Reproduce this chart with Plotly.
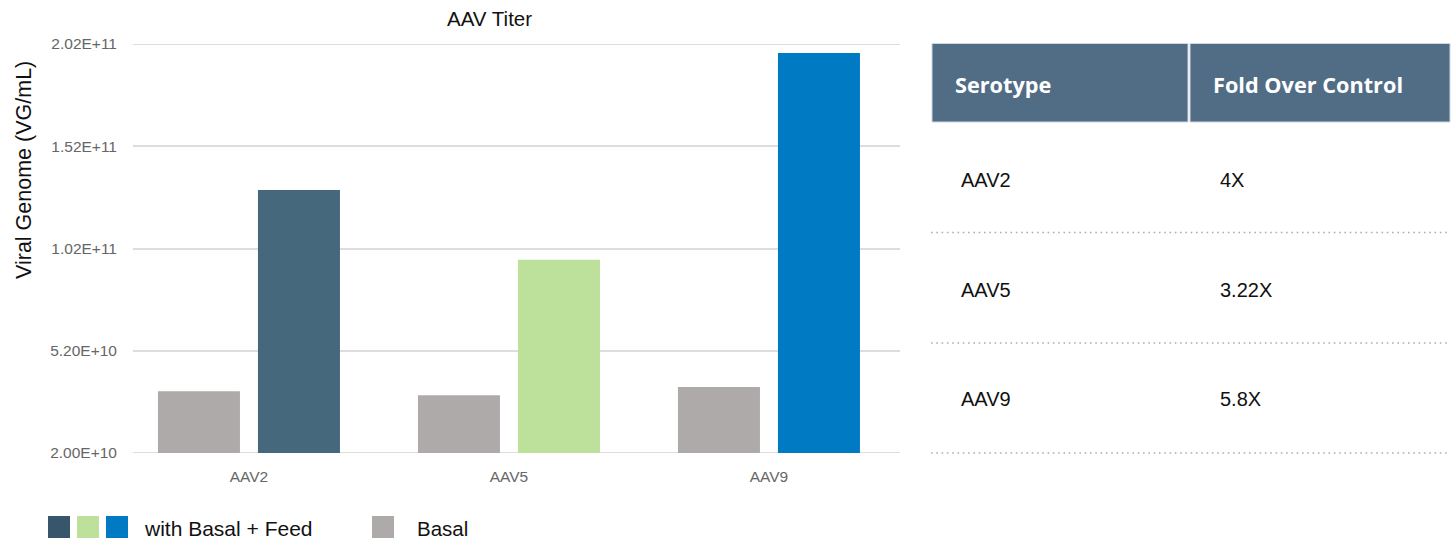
import numpy as np
import plotly.graph_objects as go

# ---------------- data ----------------
categories = ["AAV2", "AAV5", "AAV9"]
basal = [4.75e10, 4.57e10, 4.94e10]
feed = [1.37e11, 1.06e11, 1.98e11]
feed_colors = ["#45687c", "#bde09b", "#007ac3"]
legend_feed_colors = ["#37566b", "#bde09b", "#007ac3"]
basal_color = "#aeaaa9"
ytick_labels = ["2.00E+10", "5.20E+10", "1.02E+11", "1.52E+11", "2.02E+11"]
y_min, y_max = 2.0e10, 2.02e11
table_header = ["Serotype", "Fold Over Control"]
serotypes = ["AAV2", "AAV5", "AAV9"]
fold_over_control = ["4X", "3.22X", "5.8X"]

# ---------------- geometry helpers (pixel -> paper) ----------------
W, H = 1452, 541
L, R, T, B = 133, 900, 44, 453


def px(x):
    return (x - L) / (R - L)


def py(y):
    return (B - y) / (B - T)


FONT = "Liberation Sans, Arial, Helvetica, sans-serif"
HFONT = "Open Sans, Liberation Sans, Arial, sans-serif"
GRID = "#dddddd"

fig = go.Figure()
fig.add_trace(go.Bar(x=categories, y=basal, name="Basal",
                     marker=dict(color=basal_color, line=dict(width=0)),
                     showlegend=False))
fig.add_trace(go.Bar(x=categories, y=feed, name="with Basal + Feed",
                     marker=dict(color=feed_colors, line=dict(width=0)),
                     showlegend=False))

shapes = []
annotations = []

# edge gridlines (plotly hides gridlines that sit exactly on the range edges)
for yv in (y_min, y_max):
    shapes.append(dict(type="line", xref="paper", yref="y", x0=0, x1=1, y0=yv, y1=yv,
                       line=dict(color=GRID, width=2), layer="below"))

# title and axis title
annotations.append(dict(text="AAV Titer", x=px(489), y=py(18), xref="paper", yref="paper",
                        showarrow=False, xanchor="center", yanchor="middle",
                        font=dict(family=FONT, size=20.5, color="#111111")))
annotations.append(dict(text="Viral Genome (VG/mL)", x=px(24), y=py(170), xref="paper", yref="paper",
                        showarrow=False, xanchor="center", yanchor="middle", textangle=-90,
                        font=dict(family=FONT, size=21.5, color="#111111")))

# custom legend
sq = 22
for i, c in enumerate(legend_feed_colors):
    x0 = [48, 77, 106][i]
    shapes.append(dict(type="rect", xref="paper", yref="paper",
                       x0=px(x0), x1=px(x0 + sq), y0=py(516), y1=py(538),
                       fillcolor=c, line=dict(width=0)))
annotations.append(dict(text="with Basal + Feed", x=px(142), y=py(528), xref="paper", yref="paper",
                        showarrow=False, xanchor="left", yanchor="middle",
                        font=dict(family=FONT, size=21, color="#111111")))
shapes.append(dict(type="rect", xref="paper", yref="paper",
                   x0=px(372), x1=px(394), y0=py(516), y1=py(538),
                   fillcolor=basal_color, line=dict(width=0)))
annotations.append(dict(text="Basal", x=px(415), y=py(528), xref="paper", yref="paper",
                        showarrow=False, xanchor="left", yanchor="middle",
                        font=dict(family=FONT, size=20.5, color="#111111")))

# table header
header_color = "#516d85"
shapes.append(dict(type="rect", xref="paper", yref="paper", x0=px(932), x1=px(1188),
                   y0=py(122), y1=py(43.5), fillcolor=header_color, line=dict(color="#cfd7df", width=1)))
shapes.append(dict(type="rect", xref="paper", yref="paper", x0=px(1190), x1=px(1450),
                   y0=py(122), y1=py(43.5), fillcolor=header_color, line=dict(color="#cfd7df", width=1)))
header_x = [953, 1211]
for hx, ht in zip(header_x, table_header):
    annotations.append(dict(text="<b>%s</b>" % ht, x=px(hx), y=py(84), xref="paper", yref="paper",
                            showarrow=False, xanchor="left", yanchor="middle",
                            font=dict(family=HFONT, size=21.7, color="#ffffff")))

row_y = [180, 290, 399]
sep_y = [232.5, 343, 453]
for ry, s, f in zip(row_y, serotypes, fold_over_control):
    annotations.append(dict(text=s, x=px(959), y=py(ry), xref="paper", yref="paper",
                            showarrow=False, xanchor="left", yanchor="middle",
                            font=dict(family=FONT, size=20, color="#111111")))
    annotations.append(dict(text=f, x=px(1218), y=py(ry), xref="paper", yref="paper",
                            showarrow=False, xanchor="left", yanchor="middle",
                            font=dict(family=FONT, size=20, color="#111111")))
for sy in sep_y:
    shapes.append(dict(type="line", xref="paper", yref="paper", x0=px(931), x1=px(1450),
                       y0=py(sy), y1=py(sy), line=dict(color="#a3afbd", width=1.6, dash="1.6px,3.7px")))

tickvals = list(np.linspace(y_min, y_max, len(ytick_labels)))

fig.update_layout(
    width=W, height=H,
    margin=dict(l=L, r=W - R, t=T, b=H - B, pad=0),
    paper_bgcolor="white", plot_bgcolor="white",
    barmode="group", bargap=0.2308, bargroupgap=0.18,
    shapes=shapes, annotations=annotations,
    xaxis=dict(type="category", range=[-0.446, 2.504], showgrid=False, showline=False,
               zeroline=False, ticks="", ticklabelstandoff=12,
               tickfont=dict(family=FONT, size=15.5, color="#666666")),
    yaxis=dict(range=[y_min, y_max], tickvals=tickvals, ticktext=ytick_labels,
               showgrid=True, gridcolor=GRID, gridwidth=2, zeroline=False, showline=False,
               ticks="", ticklabelstandoff=15,
               tickfont=dict(family=FONT, size=15.5, color="#666666")),
    showlegend=False,
)

fig.write_html("out.html")
